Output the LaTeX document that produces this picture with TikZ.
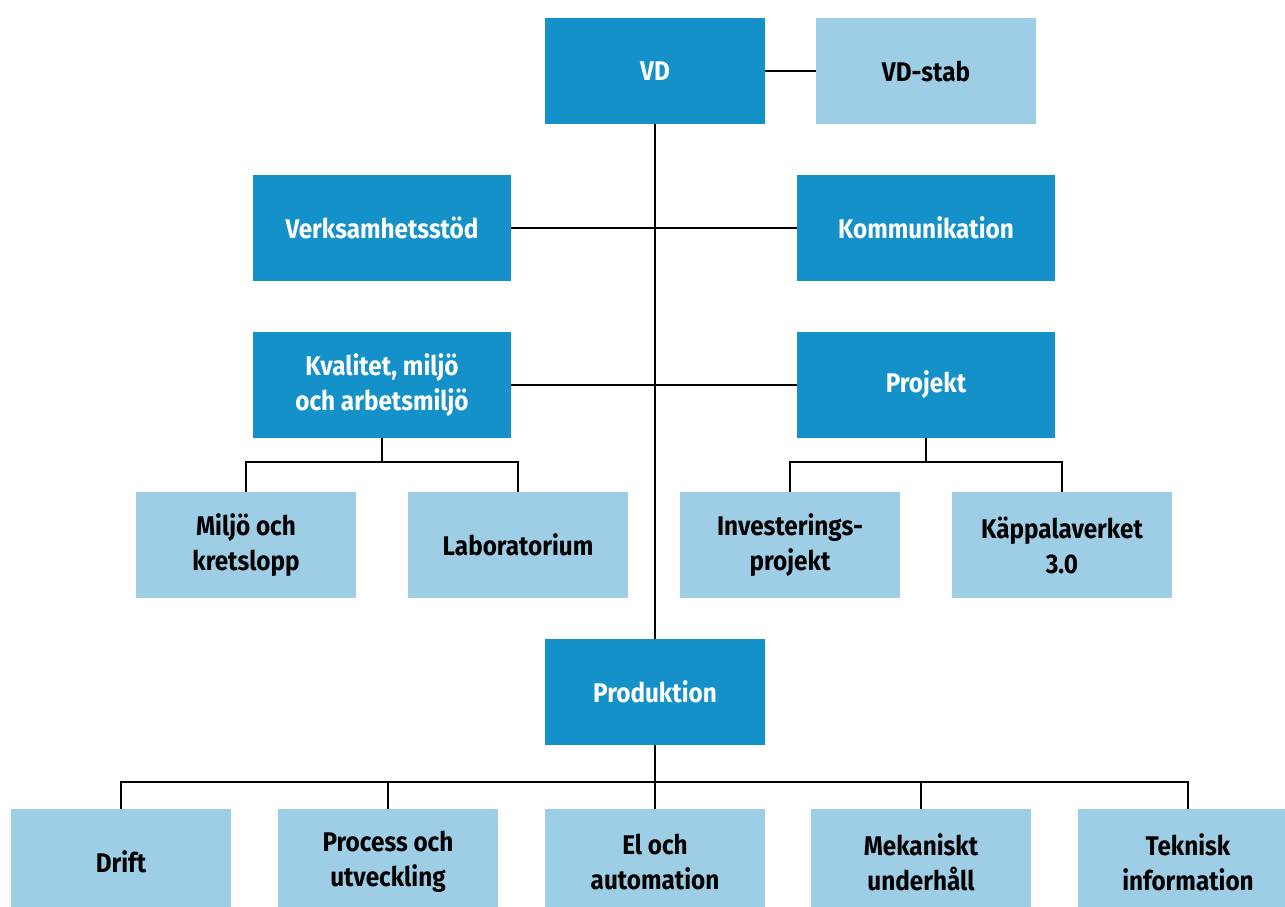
\documentclass[tikz,border=0pt]{standalone}
\usepackage{fontspec}
\setmainfont[FakeStretch=0.9]{Fira Sans}
\definecolor{darkb}{HTML}{1591CA}
\definecolor{lightb}{HTML}{9DCEE6}
\begin{document}
\begin{tikzpicture}[x=1pt,y=-1pt,
  box/.style={rectangle,inner sep=0pt,minimum height=106pt,align=center,
    font=\fontsize{27}{35}\selectfont\bfseries},
  main/.style={box,fill=darkb,text=white},
  sub/.style={box,fill=lightb,text=black},
  w1/.style={minimum width=220pt},
  w2/.style={minimum width=258pt},
  conn/.style={draw=black,line width=2.6pt}]
\useasboundingbox (0,0) rectangle (1285,907);
\clip (0,0) rectangle (1285,907);
\node[main,w1] (vd) at (655,71) {VD};
\node[sub,w1] (stab) at (926,71) {VD-stab};
\node[main,w2] (verk) at (382,228) {Verksamhetsstöd};
\node[main,w2] (komm) at (926,228) {Kommunikation};
\node[main,w2] (kval) at (382,385) {Kvalitet, miljö\\och arbetsmiljö};
\node[main,w2] (proj) at (926,385) {Projekt};
\node[sub,w1] (milj) at (246,545) {Miljö och\\kretslopp};
\node[sub,w1] (lab) at (518,545) {Laboratorium};
\node[sub,w1] (inv) at (790,545) {Investerings-\\projekt};
\node[sub,w1] (kap) at (1062,545) {Käppalaverket\\3.0};
\node[main,w1] (prod) at (655,692) {Produktion};
\node[sub,w1] (drift) at (121,862) {Drift};
\node[sub,w1] (proc) at (388,862) {Process och\\utveckling};
\node[sub,w1] (el) at (655,862) {El och\\automation};
\node[sub,w1] (mek) at (921,862) {Mekaniskt\\underhåll};
\node[sub,w1] (tek) at (1188,862) {Teknisk\\information};
\coordinate (kj) at (382,462);
\coordinate (pj) at (926,462);
\coordinate (bj) at (655,782);
\draw[conn] (vd.east) -- (stab.west);
\draw[conn] (vd.south) -- (prod.north);
\draw[conn] (verk.east) -- (komm.west);
\draw[conn] (kval.east) -- (proj.west);
\draw[conn] (kval.south) -- (kj);
\draw[conn] (kj) -| (milj.north);
\draw[conn] (kj) -| (lab.north);
\draw[conn] (proj.south) -- (pj);
\draw[conn] (pj) -| (inv.north);
\draw[conn] (pj) -| (kap.north);
\draw[conn] (prod.south) -- (bj);
\draw[conn] (bj) -| (drift.north);
\draw[conn] (bj) -| (proc.north);
\draw[conn] (bj) -- (el.north);
\draw[conn] (bj) -| (mek.north);
\draw[conn] (bj) -| (tek.north);
\end{tikzpicture}
\end{document}
